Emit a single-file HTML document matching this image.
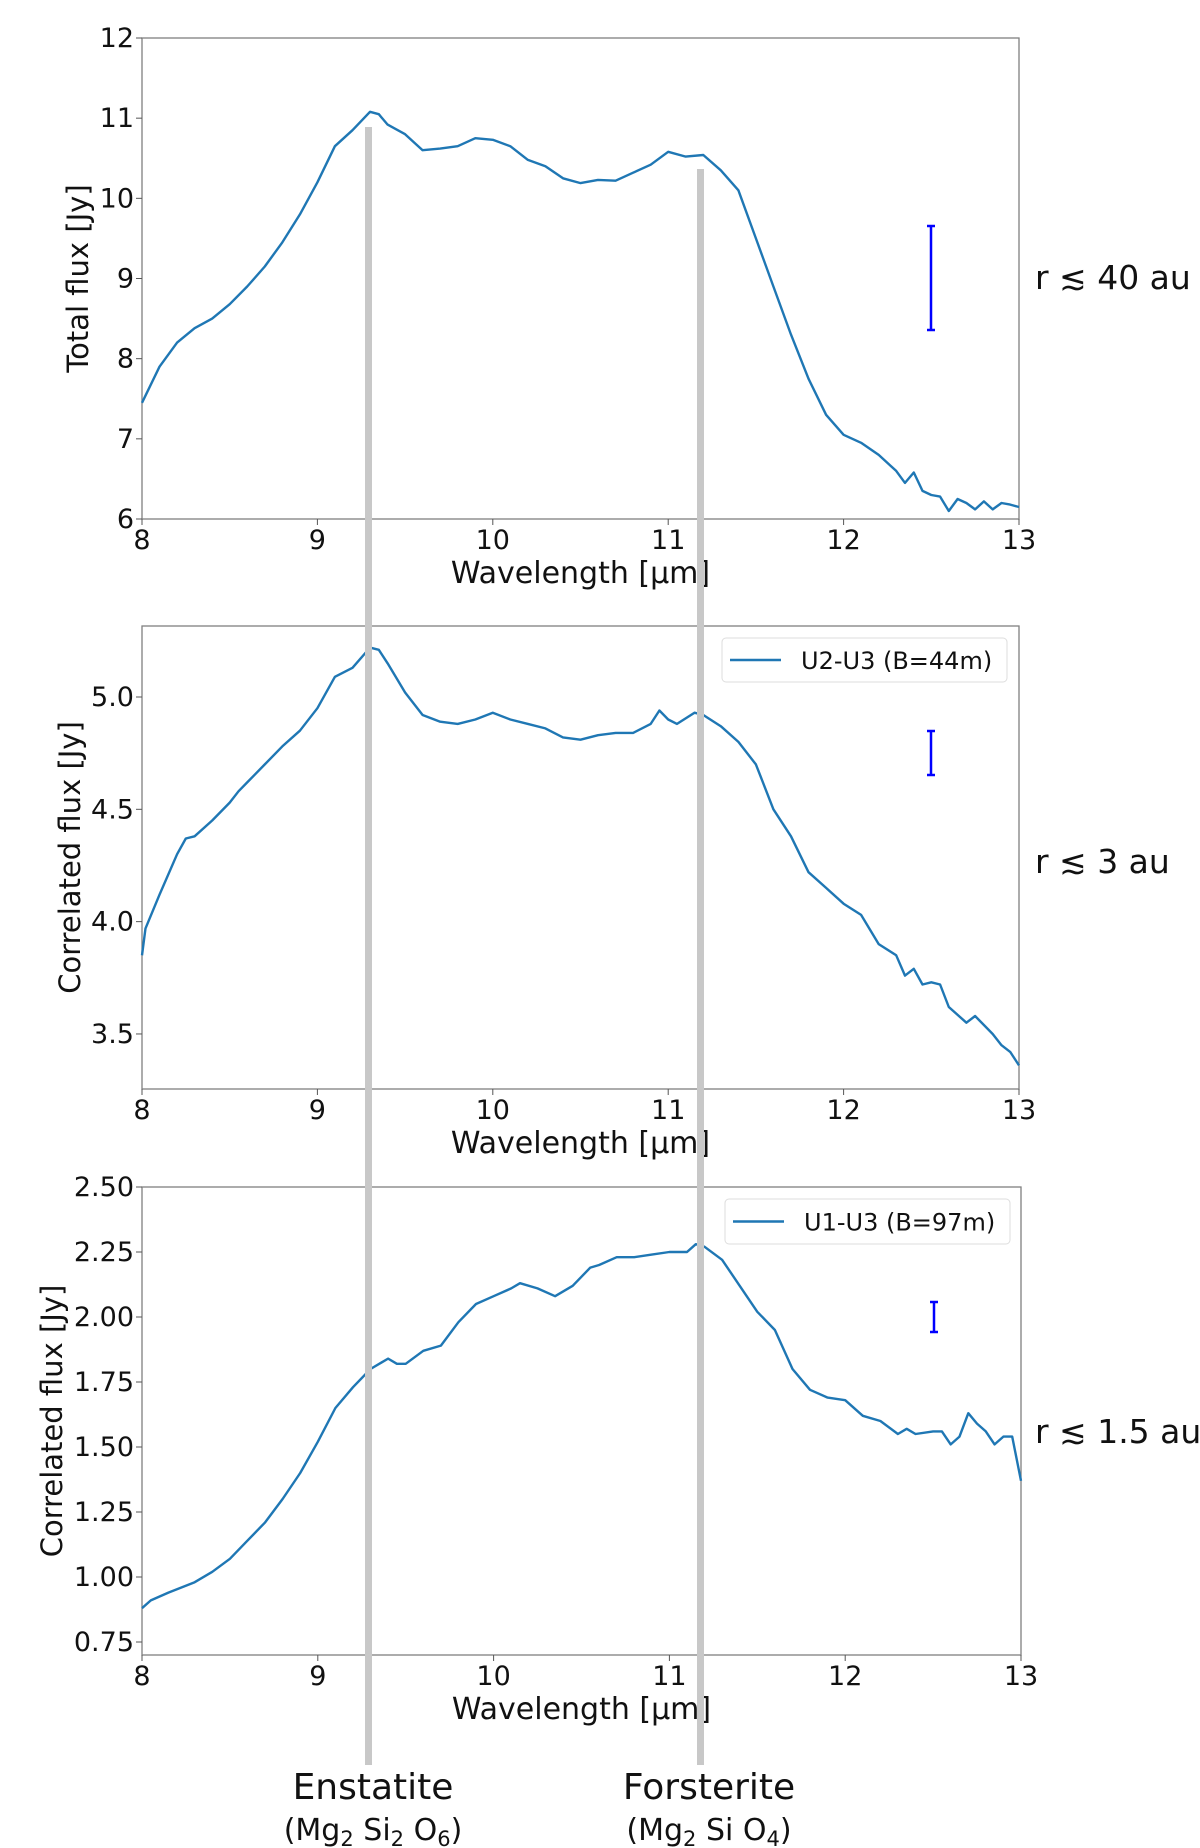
<!DOCTYPE html>
<html><head><meta charset="utf-8"><style>
html,body{margin:0;padding:0;background:#fff;}
svg{display:block;font-family:"DejaVu Sans","Liberation Sans",sans-serif;}
</style></head><body>
<svg id="fig" width="1200" height="1848" viewBox="0 0 1200 1848" xmlns="http://www.w3.org/2000/svg"></svg>
<script>
const xTicks=[8,9,10,11,12,13];
const topX=[8.0,8.1,8.2,8.3,8.4,8.5,8.6,8.7,8.8,8.9,9.0,9.1,9.2,9.3,9.35,9.4,9.5,9.6,9.7,9.8,9.9,10.0,10.1,10.2,10.3,10.4,10.5,10.6,10.7,10.8,10.9,11.0,11.1,11.2,11.3,11.4,11.5,11.6,11.7,11.8,11.9,12.0,12.1,12.2,12.3,12.35,12.4,12.45,12.5,12.55,12.6,12.65,12.7,12.75,12.8,12.85,12.9,12.95,13.0];
const topY=[7.45,7.9,8.2,8.38,8.5,8.68,8.9,9.15,9.45,9.8,10.2,10.65,10.85,11.08,11.05,10.92,10.8,10.6,10.62,10.65,10.75,10.73,10.65,10.48,10.4,10.25,10.19,10.23,10.22,10.32,10.42,10.58,10.52,10.54,10.35,10.1,9.5,8.9,8.3,7.75,7.3,7.05,6.95,6.8,6.6,6.45,6.58,6.35,6.3,6.28,6.1,6.25,6.2,6.12,6.22,6.12,6.2,6.18,6.15];
const midX=[8.0,8.02,8.1,8.2,8.25,8.3,8.4,8.5,8.55,8.6,8.7,8.8,8.9,9.0,9.1,9.2,9.3,9.35,9.4,9.5,9.6,9.7,9.8,9.9,10.0,10.1,10.2,10.3,10.4,10.5,10.6,10.7,10.8,10.9,10.95,11.0,11.05,11.15,11.2,11.3,11.4,11.5,11.6,11.7,11.8,11.9,12.0,12.1,12.2,12.3,12.35,12.4,12.45,12.5,12.55,12.6,12.7,12.75,12.85,12.9,12.95,13.0];
const midY=[3.85,3.97,4.12,4.3,4.37,4.38,4.45,4.53,4.58,4.62,4.7,4.78,4.85,4.95,5.09,5.13,5.22,5.21,5.15,5.02,4.92,4.89,4.88,4.9,4.93,4.9,4.88,4.86,4.82,4.81,4.83,4.84,4.84,4.88,4.94,4.9,4.88,4.93,4.92,4.87,4.8,4.7,4.5,4.38,4.22,4.15,4.08,4.03,3.9,3.85,3.76,3.79,3.72,3.73,3.72,3.62,3.55,3.58,3.5,3.45,3.42,3.36];
const botX=[8.0,8.05,8.15,8.3,8.4,8.5,8.6,8.7,8.8,8.9,9.0,9.1,9.2,9.3,9.4,9.45,9.5,9.6,9.7,9.8,9.9,10.0,10.1,10.15,10.25,10.35,10.45,10.55,10.6,10.7,10.8,10.9,11.0,11.1,11.15,11.2,11.3,11.4,11.5,11.6,11.7,11.8,11.9,12.0,12.1,12.2,12.3,12.35,12.4,12.5,12.55,12.6,12.65,12.7,12.75,12.8,12.85,12.9,12.95,13.0];
const botY=[0.88,0.91,0.94,0.98,1.02,1.07,1.14,1.21,1.3,1.4,1.52,1.65,1.73,1.8,1.84,1.82,1.82,1.87,1.89,1.98,2.05,2.08,2.11,2.13,2.11,2.08,2.12,2.19,2.2,2.23,2.23,2.24,2.25,2.25,2.28,2.27,2.22,2.12,2.02,1.95,1.8,1.72,1.69,1.68,1.62,1.6,1.55,1.57,1.55,1.56,1.56,1.51,1.54,1.63,1.59,1.56,1.51,1.54,1.54,1.37];
const topTicks=[6,7,8,9,10,11,12];
const midTicks=[3.5,4.0,4.5,5.0];
const botTicks=[0.75,1.00,1.25,1.50,1.75,2.00,2.25,2.50];
const NS="http://www.w3.org/2000/svg";
const svg=document.getElementById('fig');
function mk(tag,attrs,parent){const e=document.createElementNS(NS,tag);for(const k in attrs)e.setAttribute(k,attrs[k]);(parent||svg).appendChild(e);return e;}
function panel(o){
  const g=mk('g',{});
  
  
  const sx=v=>o.L+(v-8)/5*(o.R-o.L);
  const sy=v=>o.B-(v-o.ymin)/(o.ymax-o.ymin)*(o.B-o.T);
  const fr=mk('rect',{x:o.L,y:o.T,width:o.R-o.L,height:o.B-o.T,fill:'none',stroke:'#808080','stroke-width':1.3},g);
  
  xTicks.forEach(t=>{const x=sx(t);mk('line',{x1:x,x2:x,y1:o.B,y2:o.B+6,stroke:'#555'},g);
    const tx=mk('text',{x:x,y:o.B+30,'text-anchor':'middle','font-size':27,fill:'#111'},g);tx.textContent=t;
    });
  o.ticks.forEach(t=>{const y=sy(t);mk('line',{x1:o.L-6,x2:o.L,y1:y,y2:y,stroke:'#555'},g);
    const tx=mk('text',{x:o.L-8,y:y+9,'text-anchor':'end','font-size':27,fill:'#111'},g);tx.textContent=o.fmt(t);
    });
  const xl=mk('text',{x:(o.L+o.R)/2,y:o.B+64,'text-anchor':'middle','font-size':30,fill:'#111'},g);
  xl.textContent='Wavelength [μm]';
  const yl=mk('text',{x:0,y:0,'text-anchor':'middle','font-size':29,fill:'#111',transform:`translate(${o.yt},${(o.T+o.B)/2}) rotate(-90)`},g);
  yl.textContent=o.ytitle;
  let d='';o.xs.forEach((v,i)=>{d+=(i?'L':'M')+sx(v).toFixed(1)+','+sy(o.ys[i]).toFixed(1);});
  const p=mk('path',{d:d,fill:'none',stroke:'#1f77b4','stroke-width':2.4,'stroke-linejoin':'round'},g);
  
  const eb=mk('g',{stroke:'#0000ff','stroke-width':2.5},g);
  
  mk('line',{x1:o.ex,x2:o.ex,y1:o.e1,y2:o.e2},eb);
  mk('line',{x1:o.ex-4,x2:o.ex+4,y1:o.e1,y2:o.e1},eb);
  mk('line',{x1:o.ex-4,x2:o.ex+4,y1:o.e2,y2:o.e2},eb);
  const rl=mk('text',{x:1035,y:o.ry,'font-size':33,fill:'#111'},g);
  rl.textContent=o.rlab;
  if(o.leg){const lg=mk('g',{},g);
    mk('rect',{x:o.leg[0],y:o.leg[1],width:o.leg[2],height:o.leg[3],rx:4,fill:'#fff',stroke:'#ddd'},lg);
    mk('line',{x1:o.leg[0]+8,x2:o.leg[0]+59,y1:o.leg[1]+o.leg[3]/2,y2:o.leg[1]+o.leg[3]/2,stroke:'#1f77b4','stroke-width':2.4},lg);
    const lt=mk('text',{x:o.leg[0]+79,y:o.leg[1]+o.leg[3]/2+9,'font-size':24,fill:'#111'},lg);lt.textContent=o.legText;}
}
panel({name:'total-flux-panel',L:142,R:1019,T:38,B:519,ymin:6,ymax:12,ticks:topTicks,fmt:t=>String(t),xs:topX,ys:topY,ytitle:'Total flux [Jy]',yt:88,ex:931,e1:226,e2:330,rlab:'r ≲ 40 au',ry:289});
panel({name:'correlated-flux-44m-panel',L:142,R:1019,T:626,B:1089,ymin:3.255,ymax:5.316,ticks:midTicks,fmt:t=>t.toFixed(1),xs:midX,ys:midY,ytitle:'Correlated flux [Jy]',yt:80,ex:931,e1:731,e2:775,rlab:'r ≲ 3 au',ry:873,leg:[722,638,285,44],legText:'U2-U3 (B=44m)'});
panel({name:'correlated-flux-97m-panel',L:142,R:1021,T:1187,B:1655,ymin:0.70,ymax:2.50,ticks:botTicks,fmt:t=>t.toFixed(2),xs:botX,ys:botY,ytitle:'Correlated flux [Jy]',yt:62,ex:934,e1:1302,e2:1332,rlab:'r ≲ 1.5 au',ry:1443,leg:[725,1199,285,45],legText:'U1-U3 (B=97m)'});
const g1=mk('rect',{x:365,y:127,width:7,height:1638,fill:'#c8c8c8'});

const g2=mk('rect',{x:697,y:169,width:7,height:1596,fill:'#c8c8c8'});

</script>
<svg style="position:absolute;left:0;top:0" width="1200" height="1848">
<text x="373" y="1799" text-anchor="middle" font-size="36" fill="#111" font-family="DejaVu Sans,sans-serif">Enstatite</text>
<text x="373" y="1840" text-anchor="middle" font-size="30" fill="#111" font-family="DejaVu Sans,sans-serif">(Mg<tspan font-size="21" dy="6">2</tspan><tspan dy="-6"> Si</tspan><tspan font-size="21" dy="6">2</tspan><tspan dy="-6"> O</tspan><tspan font-size="21" dy="6">6</tspan><tspan dy="-6">)</tspan></text>
<text x="709" y="1799" text-anchor="middle" font-size="36" fill="#111" font-family="DejaVu Sans,sans-serif">Forsterite</text>
<text x="709" y="1840" text-anchor="middle" font-size="30" fill="#111" font-family="DejaVu Sans,sans-serif">(Mg<tspan font-size="21" dy="6">2</tspan><tspan dy="-6"> Si O</tspan><tspan font-size="21" dy="6">4</tspan><tspan dy="-6">)</tspan></text>
</svg>
</body></html>
